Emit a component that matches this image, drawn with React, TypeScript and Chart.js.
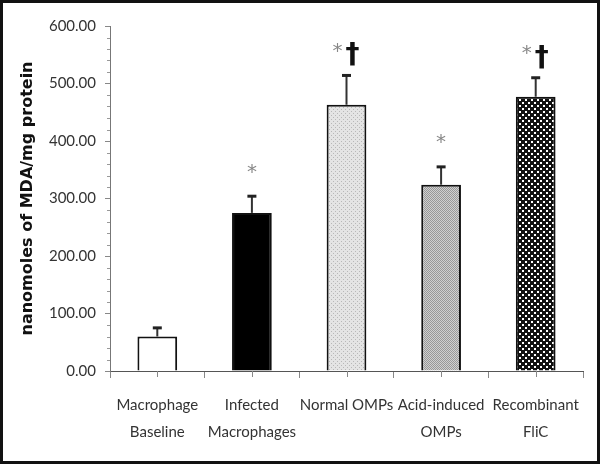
import { useEffect, useRef } from "react";
import { Chart, registerables } from "chart.js";

Chart.register(...registerables);

const categories: (string | string[])[] = [
  ["Macrophage", "Baseline"],
  ["Infected", "Macrophages"],
  "Normal OMPs",
  ["Acid-induced", "OMPs"],
  ["Recombinant", "FliC"],
];
const values = [60, 275, 463, 324, 477];
const errorsUp = [15, 29, 51, 31, 33];
const asterisks = [false, true, true, true, true];
const daggers = [false, false, true, false, true];
const yTicks = [0, 100, 200, 300, 400, 500, 600];
const yTitle = "nanomoles of MDA/mg protein";

const LABEL_FONT = "Lato, 'Liberation Sans', sans-serif";

function makePattern(kind: string): CanvasPattern | string {
  const c = document.createElement("canvas");
  const ctx = c.getContext("2d");
  if (!ctx) return "#ccc";
  if (kind === "light") {
    c.width = 4; c.height = 4;
    ctx.fillStyle = "#e4e4e4"; ctx.fillRect(0, 0, 4, 4);
    ctx.fillStyle = "#b8b8b8"; ctx.fillRect(0, 0, 1, 1); ctx.fillRect(2, 2, 1, 1);
  } else if (kind === "medium") {
    c.width = 2; c.height = 2;
    ctx.fillStyle = "#d0d0d0"; ctx.fillRect(0, 0, 2, 2);
    ctx.fillStyle = "#989898"; ctx.fillRect(0, 0, 1, 1); ctx.fillRect(1, 1, 1, 1);
  } else {
    c.width = 6; c.height = 6;
    ctx.fillStyle = "#111"; ctx.fillRect(0, 0, 6, 6);
    ctx.fillStyle = "#fff"; ctx.fillRect(0, 0, 2, 2); ctx.fillRect(3, 3, 2, 2);
  }
  return ctx.createPattern(c, "repeat") || "#ccc";
}

export default function App() {
  const ref = useRef<HTMLCanvasElement>(null);
  useEffect(() => {
    document.body.style.margin = "0";
    if (!ref.current) return;
    const fills = ["#ffffff", "#000000", makePattern("light"), makePattern("medium"), makePattern("check")];

    const extras = {
      id: "extras",
      afterDatasetsDraw(chart: any) {
        const ctx = chart.ctx;
        const xs = chart.scales.x;
        const ys = chart.scales.y;
        ctx.save();
        values.forEach((v, i) => {
          const x = xs.getPixelForValue(i);
          const yTop = ys.getPixelForValue(v);
          const yCap = ys.getPixelForValue(v + errorsUp[i]);
          ctx.strokeStyle = "#333";
          ctx.lineWidth = 2;
          ctx.beginPath(); ctx.moveTo(x, yTop); ctx.lineTo(x, yCap); ctx.stroke();
          ctx.strokeStyle = "#222";
          ctx.lineWidth = 3;
          ctx.beginPath(); ctx.moveTo(x - 4.5, yCap); ctx.lineTo(x + 4.5, yCap); ctx.stroke();
          const pair = daggers[i];
          if (asterisks[i]) {
            ctx.fillStyle = "#888";
            ctx.font = "20px 'DejaVu Sans'";
            ctx.textAlign = "center";
            ctx.textBaseline = "alphabetic";
            ctx.fillText("*", pair ? x - 9 : x, yCap - 29 + 10.5);
          }
          if (pair) {
            ctx.fillStyle = "#111";
            ctx.font = "bold 28px 'DejaVu Sans'";
            ctx.textAlign = "center";
            ctx.textBaseline = "alphabetic";
            ctx.fillText("\u2020", x + 6, yCap - 12);
          }
        });
        ctx.restore();
      },
      afterDraw(chart: any) {
        const ctx = chart.ctx;
        const xs = chart.scales.x;
        const ys = chart.scales.y;
        const area = chart.chartArea;
        ctx.save();
        ctx.strokeStyle = "#999";
        ctx.lineWidth = 1;
        for (let v = 20; v < 600; v += 20) {
          if (v % 100 === 0) continue;
          const y = Math.round(ys.getPixelForValue(v)) + 0.5;
          ctx.beginPath(); ctx.moveTo(area.left - 3, y); ctx.lineTo(area.left, y); ctx.stroke();
        }
        ctx.strokeStyle = "#888";
        values.forEach((_, i) => {
          const x = Math.round(xs.getPixelForValue(i)) + 0.5;
          ctx.beginPath(); ctx.moveTo(x, area.bottom); ctx.lineTo(x, area.bottom + 6); ctx.stroke();
        });
        ctx.restore();
      },
    };

    const chart = new Chart(ref.current, {
      type: "bar",
      data: {
        labels: categories,
        datasets: [
          {
            data: values,
            backgroundColor: fills as any,
            borderColor: "#111",
            borderWidth: 2,
            barPercentage: 0.42,
            categoryPercentage: 1,
          },
        ],
      },
      options: {
        animation: false,
        responsive: false,
        layout: { padding: { left: 15, right: 14, top: 23, bottom: 0 } },
        plugins: { legend: { display: false }, tooltip: { enabled: false } },
        scales: {
          x: {
            afterFit(scale: any) { scale.height = 90; },
            border: { color: "#555", width: 1 },
            grid: { offset: true, drawOnChartArea: false, tickLength: 7, color: "#888" },
            ticks: {
              font: { family: LABEL_FONT, size: 15, lineHeight: 1.8 },
              color: "#333",
              padding: 14,
              maxRotation: 0,
              autoSkip: false,
            },
          },
          y: {
            min: 0,
            max: 600,
            afterFit(scale: any) { scale.width = 92; },
            afterBuildTicks(scale: any) { scale.ticks = yTicks.map((v) => ({ value: v })); },
            border: { color: "#777", width: 1 },
            grid: { drawOnChartArea: false, tickLength: 5, color: "#888" },
            ticks: {
              callback: (v: any) => Number(v).toFixed(2),
              font: { family: LABEL_FONT, size: 15 },
              color: "#333",
              padding: 9,
            },
            title: {
              display: true,
              text: yTitle,
              font: { family: "'DejaVu Sans'", size: 16, weight: "bold" },
              color: "#111",
              padding: 0,
            },
          },
        },
      },
      plugins: [extras],
    });
    return () => chart.destroy();
  }, []);

  return (
    <div style={{ width: 600, height: 464, boxSizing: "border-box", border: "3px solid #111", background: "#fff" }}>
      <canvas ref={ref} width={594} height={458} style={{ display: "block" }} />
    </div>
  );
}
